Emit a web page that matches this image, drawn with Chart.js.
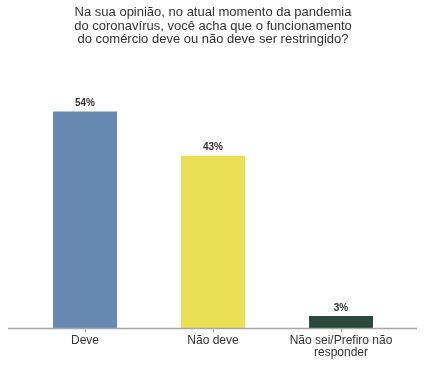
<!DOCTYPE html>
<html>
<head>
<meta charset="utf-8">
<script src="https://cdn.jsdelivr.net/npm/chart.js@4"></script>
<style>
  html, body { margin: 0; padding: 0; background: #fff; }
  #wrap { width: 424px; height: 381px; }
</style>
</head>
<body>
<div id="wrap"><canvas id="chart" width="424" height="381"></canvas></div>
<script>
// dados
const categories = [['Deve'], ['Não deve'], ['Não sei/Prefiro não', 'responder']];
const values = [54, 43, 3];
const barColors = ['#6688b1', '#ebe053', '#2b4a3d'];
const titleLines = [
  'Na sua opinião, no atual momento da pandemia',
  'do coronavírus, você acha que o funcionamento',
  'do comércio deve ou não deve ser restringido?'
];

const FONT = '"Liberation Sans", Arial, sans-serif';

// linha de base um pouco mais larga que a área do gráfico
const baseline = {
  id: 'baseline',
  afterDatasetsDraw(chart) {
    const { ctx, chartArea } = chart;
    ctx.save();
    ctx.strokeStyle = '#a6a6a6';
    ctx.lineWidth = 1.5;
    ctx.beginPath();
    ctx.moveTo(chartArea.left - 13, chartArea.bottom + 0.5);
    ctx.lineTo(chartArea.right + 12, chartArea.bottom + 0.5);
    ctx.stroke();
    ctx.restore();
  }
};

// rótulos de valor acima das barras
const valueLabels = {
  id: 'valueLabels',
  afterDatasetsDraw(chart) {
    const { ctx } = chart;
    const meta = chart.getDatasetMeta(0);
    ctx.save();
    ctx.font = 'bold 10px ' + FONT;
    ctx.fillStyle = '#333';
    ctx.textAlign = 'center';
    ctx.textBaseline = 'bottom';
    meta.data.forEach((bar, i) => {
      ctx.fillText(values[i] + '%', bar.x, bar.y - 3);
    });
    ctx.restore();
  }
};

new Chart(document.getElementById('chart').getContext('2d'), {
  type: 'bar',
  data: {
    labels: categories,
    datasets: [{
      data: values,
      backgroundColor: barColors,
      borderWidth: 0,
      barPercentage: 0.5,
      categoryPercentage: 1
    }]
  },
  options: {
    responsive: false,
    animation: false,
    layout: { padding: { left: 21, right: 19, top: 0, bottom: 19 } },
    plugins: {
      legend: { display: false },
      tooltip: { enabled: false },
      title: {
        display: true,
        text: titleLines,
        color: '#333',
        font: { family: FONT, size: 13, weight: 'normal', lineHeight: 1.04 },
        padding: { top: 6, bottom: 41 }
      }
    },
    scales: {
      x: {
        offset: true,
        grid: {
          offset: false,
          drawOnChartArea: false,
          drawTicks: true,
          tickLength: 4,
          color: '#a6a6a6'
        },
        border: { display: false },
        ticks: {
          color: '#333',
          padding: 3,
          font: { family: FONT, size: 12, lineHeight: 1.0 }
        }
      },
      y: {
        display: false,
        min: 0,
        max: 60
      }
    }
  },
  plugins: [baseline, valueLabels]
});
</script>
</body>
</html>
